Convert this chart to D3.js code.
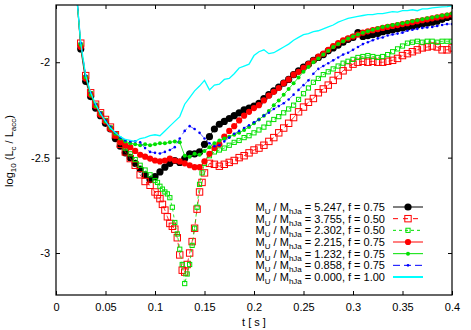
<!DOCTYPE html>
<html lang="en">
<head>
<meta charset="UTF-8">
<title>log10 (Lc / Lacc) versus t</title>
<script src="https://d3js.org/d3.v7.min.js"></script>
<style>
  body { margin: 0; background: #fff; }
  svg { display: block; font-family: 'Liberation Sans', Arial, sans-serif; }
</style>
</head>
<body>
<svg id="chart" width="471" height="330"></svg>
<script>
// time grid (s)
const times = [
  0.020,0.025,0.030,0.035,0.040,0.045,0.050,0.055,0.060,0.065,
  0.070,0.075,0.080,0.085,0.090,0.095,0.100,0.105,0.110,0.115,
  0.120,0.125,0.130,0.135,0.140,0.145,0.150,0.155,0.160,0.165,
  0.170,0.175,0.180,0.185,0.190,0.195,0.200,0.205,0.210,0.215,
  0.220,0.225,0.230,0.235,0.240,0.245,0.250,0.255,0.260,0.265,
  0.270,0.275,0.280,0.285,0.290,0.295,0.300,0.305,0.310,0.315,
  0.320,0.325,0.330,0.335,0.340,0.345,0.350,0.355,0.360,0.365,
  0.370,0.375,0.380,0.385,0.390,0.395,0.400
];
// finer output around the dip (f = 0.50 runs)
const timesFine = [
  0.020,0.025,0.030,0.035,0.040,0.045,0.050,0.055,0.060,0.065,
  0.070,0.075,0.080,0.085,0.090,0.095,0.100,
  0.1025,0.105,0.1075,0.110,0.1125,0.115,0.1175,0.120,0.1225,0.125,
  0.1275,0.130,0.1325,0.135,0.1375,0.140,0.1425,0.145,0.1475,0.150,
  0.155,0.160,0.165,0.170,0.175,0.180,0.185,0.190,0.195,0.200,
  0.205,0.210,0.215,0.220,0.225,0.230,0.235,0.240,0.245,0.250,
  0.255,0.260,0.265,0.270,0.275,0.280,0.285,0.290,0.295,0.300,
  0.305,0.310,0.315,0.320,0.325,0.330,0.335,0.340,0.345,0.350,
  0.355,0.360,0.365,0.370,0.375,0.380,0.385,0.390,0.395,0.400
];

// log10(Lc/Lacc)
const m5247 = [
  -1.58,-1.93,-2.10,-2.18,-2.24,-2.28,-2.32,-2.35,-2.40,-2.44,
  -2.475,-2.50,-2.53,-2.56,-2.59,-2.615,-2.60,-2.575,-2.55,-2.53,
  -2.515,-2.525,-2.505,-2.48,-2.48,-2.47,-2.43,-2.39,-2.35,-2.325,
  -2.31,-2.295,-2.28,-2.265,-2.25,-2.24,-2.23,-2.215,-2.19,-2.17,
  -2.15,-2.13,-2.11,-2.09,-2.065,-2.045,-2.025,-2.01,-1.99,-1.975,
  -1.96,-1.94,-1.925,-1.91,-1.895,-1.88,-1.87,-1.845,-1.865,-1.86,
  -1.855,-1.85,-1.84,-1.835,-1.83,-1.825,-1.82,-1.815,-1.81,-1.805,
  -1.80,-1.795,-1.79,-1.785,-1.775,-1.765,-1.76
];
const m3755 = [
  -1.62,-1.90,-2.07,-2.16,-2.22,-2.265,-2.30,-2.34,-2.38,-2.43,
  -2.47,-2.505,-2.54,-2.59,-2.625,-2.645,-2.68,
  -2.695,-2.715,-2.745,-2.775,-2.81,-2.845,-2.86,-2.875,-2.92,-3.01,
  -3.09,-3.10,-3.06,-3.00,-2.94,-2.87,-2.77,-2.68,-2.63,-2.58,
  -2.53,-2.535,-2.545,-2.535,-2.525,-2.515,-2.50,-2.49,-2.475,-2.46,
  -2.45,-2.435,-2.415,-2.395,-2.37,-2.345,-2.32,-2.29,-2.26,-2.235,
  -2.21,-2.19,-2.16,-2.14,-2.12,-2.095,-2.07,-2.045,-2.025,-2.01,
  -2.00,-1.995,-2.00,-1.995,-2.00,-2.00,-1.995,-1.99,-1.98,-1.965,
  -1.955,-1.945,-1.935,-1.925,-1.92,-1.915,-1.92,-1.935,-1.935,-1.925
];
const m2302 = [
  -1.60,-1.91,-2.08,-2.165,-2.225,-2.27,-2.305,-2.345,-2.38,-2.42,
  -2.45,-2.48,-2.51,-2.54,-2.565,-2.59,-2.62,
  -2.63,-2.65,-2.665,-2.68,-2.69,-2.71,-2.76,-2.84,-2.90,-2.98,
  -3.06,-3.16,-3.11,-3.06,-2.96,-2.87,-2.76,-2.64,-2.58,-2.53,
  -2.49,-2.47,-2.46,-2.45,-2.435,-2.42,-2.41,-2.395,-2.385,-2.37,
  -2.355,-2.34,-2.32,-2.30,-2.285,-2.265,-2.245,-2.225,-2.195,-2.165,
  -2.135,-2.105,-2.085,-2.065,-2.05,-2.035,-2.02,-2.005,-1.995,-1.985,
  -1.975,-1.97,-1.965,-1.97,-1.975,-1.97,-1.96,-1.945,-1.93,-1.915,
  -1.90,-1.895,-1.89,-1.895,-1.89,-1.89,-1.895,-1.89,-1.89,-1.89
];
const m2215 = [
  -1.60,-1.92,-2.085,-2.17,-2.23,-2.275,-2.31,-2.35,-2.385,-2.42,
  -2.435,-2.445,-2.465,-2.485,-2.495,-2.505,-2.515,-2.52,-2.515,-2.505,
  -2.515,-2.52,-2.53,-2.54,-2.55,-2.55,-2.52,-2.48,-2.45,-2.43,
  -2.39,-2.36,-2.335,-2.305,-2.28,-2.26,-2.24,-2.225,-2.20,-2.175,
  -2.155,-2.135,-2.11,-2.09,-2.065,-2.05,-2.03,-2.01,-1.99,-1.97,
  -1.955,-1.935,-1.915,-1.90,-1.885,-1.875,-1.865,-1.855,-1.845,-1.838,
  -1.832,-1.826,-1.82,-1.815,-1.81,-1.805,-1.80,-1.795,-1.79,-1.785,
  -1.78,-1.775,-1.77,-1.765,-1.76,-1.755,-1.75
];
const m1232 = [
  -1.59,-1.91,-2.08,-2.17,-2.23,-2.27,-2.31,-2.345,-2.375,-2.40,
  -2.415,-2.425,-2.43,-2.435,-2.43,-2.435,-2.43,-2.425,-2.425,-2.42,
  -2.415,-2.42,-2.49,-2.495,-2.48,-2.485,-2.465,-2.445,-2.425,-2.41,
  -2.40,-2.39,-2.38,-2.37,-2.355,-2.34,-2.32,-2.30,-2.28,-2.255,
  -2.225,-2.20,-2.17,-2.14,-2.11,-2.08,-2.05,-2.025,-2.00,-1.98,
  -1.96,-1.94,-1.92,-1.905,-1.89,-1.875,-1.865,-1.855,-1.845,-1.838,
  -1.83,-1.822,-1.815,-1.81,-1.805,-1.80,-1.795,-1.79,-1.785,-1.78,
  -1.775,-1.77,-1.765,-1.76,-1.755,-1.75,-1.745
];
const m0858 = [
  -1.58,-1.90,-2.07,-2.16,-2.22,-2.265,-2.305,-2.34,-2.37,-2.395,
  -2.41,-2.415,-2.415,-2.42,-2.45,-2.47,-2.475,-2.478,-2.47,-2.46,
  -2.445,-2.40,-2.36,-2.335,-2.35,-2.37,-2.40,-2.425,-2.44,-2.435,
  -2.415,-2.395,-2.375,-2.36,-2.345,-2.33,-2.315,-2.30,-2.28,-2.265,
  -2.245,-2.23,-2.215,-2.195,-2.17,-2.145,-2.12,-2.095,-2.06,-2.035,
  -2.02,-2.005,-1.99,-1.975,-1.96,-1.95,-1.935,-1.92,-1.905,-1.895,
  -1.885,-1.875,-1.87,-1.86,-1.855,-1.85,-1.845,-1.835,-1.83,-1.825,
  -1.82,-1.818,-1.815,-1.81,-1.805,-1.80,-1.80
];
const m0000 = [
  -1.60,-1.90,-2.07,-2.16,-2.22,-2.27,-2.31,-2.345,-2.37,-2.39,
  -2.405,-2.41,-2.415,-2.40,-2.395,-2.385,-2.38,-2.385,-2.36,-2.335,
  -2.31,-2.285,-2.22,-2.185,-2.15,-2.125,-2.095,-2.145,-2.12,-2.115,
  -2.09,-2.085,-2.06,-2.03,-2.02,-2.01,-1.965,-1.945,-1.935,-1.955,
  -1.95,-1.935,-1.92,-1.905,-1.885,-1.87,-1.855,-1.85,-1.84,-1.835,
  -1.825,-1.815,-1.805,-1.79,-1.78,-1.77,-1.765,-1.76,-1.755,-1.75,
  -1.75,-1.745,-1.745,-1.74,-1.735,-1.737,-1.73,-1.73,-1.725,-1.73,
  -1.72,-1.72,-1.715,-1.712,-1.71,-1.708,-1.705
];

const ratios = ["5.247", "3.755", "2.302", "2.215", "1.232", "0.858", "0.000"];
const fValues = ["0.75", "0.50", "0.50", "0.75", "0.75", "0.75", "1.00"];

const xTicks = [0, 0.05, 0.1, 0.15, 0.2, 0.25, 0.3, 0.35, 0.4];
const xTickLabels = ["0", "0.05", "0.1", "0.15", "0.2", "0.25", "0.3", "0.35", "0.4"];
const yTicks = [-3, -2.5, -2];
const yTickLabels = ["-3", "-2.5", "-2"];

const svg = d3.select("#chart");
const W = 471, H = 330;
const margin = { left: 56, right: 19, top: 5, bottom: 35 };
const x = d3.scaleLinear().domain([0, 0.4]).range([margin.left, W - margin.right]);
const y = d3.scaleLinear().domain([-3.22, -1.70]).range([H - margin.bottom, margin.top]);

// styles per run, same order as the legend
const styles = [
  { color: "#000000", marker: "circle", size: 3.6, dash: null, width: 0.8 },
  { color: "#ff0000", marker: "square", size: 6.4, dash: "5,5", width: 0.8 },
  { color: "#00e000", marker: "square", size: 4.2, dash: "3,3", width: 0.8 },
  { color: "#ff0000", marker: "circle", size: 3.1, dash: null, width: 0.8 },
  { color: "#00e000", marker: "circle", size: 2.0, dash: null, width: 0.8 },
  { color: "#0000ff", marker: "circle", size: 1.3, dash: "7,4", width: 0.6 },
  { color: "#00ffff", marker: null, size: 0, dash: null, width: 1.3 }
];
const runs = [
  { t: times, v: m5247 },
  { t: timesFine, v: m3755 },
  { t: timesFine, v: m2302 },
  { t: times, v: m2215 },
  { t: times, v: m1232 },
  { t: times, v: m0858 },
  { t: times, v: m0000 }
];

svg.append("defs").append("clipPath").attr("id", "plotClip")
  .append("rect")
  .attr("x", x(0)).attr("y", y(-1.70))
  .attr("width", x(0.4) - x(0)).attr("height", y(-3.22) - y(-1.70));

const fontFam = "'Liberation Sans', Arial, sans-serif";

// axes with inward ticks, mirrored on top/right
function styleAxis(g) {
  g.attr("font-family", fontFam).attr("font-size", 11);
  g.select(".domain").remove();
  g.selectAll(".tick line").attr("stroke", "#000");
  g.selectAll(".tick text").attr("fill", "#000");
}
svg.append("g")
  .attr("transform", `translate(0,${y(-3.22)})`)
  .call(d3.axisBottom(x).tickValues(xTicks).tickFormat((d, i) => xTickLabels[i])
    .tickSizeInner(-4).tickSizeOuter(0).tickPadding(8))
  .call(styleAxis);
svg.append("g")
  .attr("transform", `translate(0,${y(-1.70)})`)
  .call(d3.axisTop(x).tickValues(xTicks).tickFormat("").tickSizeInner(-4).tickSizeOuter(0))
  .call(styleAxis);
svg.append("g")
  .attr("transform", `translate(${x(0)},0)`)
  .call(d3.axisLeft(y).tickValues(yTicks).tickFormat((d, i) => yTickLabels[i])
    .tickSizeInner(-4).tickSizeOuter(0).tickPadding(6))
  .call(styleAxis);
svg.append("g")
  .attr("transform", `translate(${x(0.4)},0)`)
  .call(d3.axisRight(y).tickValues(yTicks).tickFormat("").tickSizeInner(-4).tickSizeOuter(0))
  .call(styleAxis);

// curves
const plot = svg.append("g").attr("clip-path", "url(#plotClip)");
const line = d3.line().x(d => x(d[0])).y(d => y(d[1]));

function drawMarkers(g, pts, st) {
  if (st.marker === "circle") {
    g.selectAll("circle").data(pts).join("circle")
      .attr("cx", d => x(d[0])).attr("cy", d => y(d[1]))
      .attr("r", st.size).attr("fill", st.color);
  } else if (st.marker === "square") {
    g.selectAll("rect").data(pts).join("rect")
      .attr("x", d => x(d[0]) - st.size / 2).attr("y", d => y(d[1]) - st.size / 2)
      .attr("width", st.size).attr("height", st.size)
      .attr("fill", "none").attr("stroke", st.color).attr("stroke-width", 1);
  }
}

runs.forEach((r, i) => {
  const st = styles[i];
  const pts = r.t.map((t, k) => [t, r.v[k]]);
  const g = plot.append("g");
  g.append("path").datum(pts)
    .attr("d", line)
    .attr("fill", "none")
    .attr("stroke", st.color)
    .attr("stroke-width", st.width)
    .attr("stroke-dasharray", st.dash);
  drawMarkers(g, pts.filter(d => d[1] <= -1.70), st);
});

// frame
svg.append("rect")
  .attr("x", x(0)).attr("y", y(-1.70))
  .attr("width", x(0.4) - x(0)).attr("height", y(-3.22) - y(-1.70))
  .attr("fill", "none").attr("stroke", "#000").attr("stroke-width", 1.2);

// legend
const legend = svg.append("g").attr("font-family", fontFam).attr("font-size", 11);
const rowY = d3.scaleLinear().domain([0, 6]).range([207, 277]);
ratios.forEach((ratio, i) => {
  const st = styles[i];
  const cy = rowY(i);
  const txt = legend.append("text")
    .attr("x", 385).attr("y", cy + 4)
    .attr("text-anchor", "end").attr("fill", "#000");
  txt.append("tspan").text("M");
  txt.append("tspan").attr("dy", 3).attr("font-size", 8).text("U");
  txt.append("tspan").attr("dy", -3).text(" / M");
  txt.append("tspan").attr("dy", 3).attr("font-size", 8).text("hJa");
  txt.append("tspan").attr("dy", -3).text(` = ${ratio}, f = ${fValues[i]}`);

  legend.append("line")
    .attr("x1", 393).attr("x2", 423).attr("y1", cy).attr("y2", cy)
    .attr("stroke", st.color).attr("stroke-width", i === 6 ? 2 : 1)
    .attr("stroke-dasharray", st.dash);
  const mg = legend.append("g");
  drawMarkers(mg, [[x.invert(408), y.invert(cy)]], st);
});

// axis titles
svg.append("text")
  .attr("x", (x(0) + x(0.4)) / 2).attr("y", 326)
  .attr("text-anchor", "middle")
  .attr("font-family", fontFam).attr("font-size", 11)
  .text("t [ s ]");

const yl = svg.append("text")
  .attr("transform", `translate(13,151) rotate(-90)`)
  .attr("text-anchor", "middle")
  .attr("font-family", fontFam).attr("font-size", 11);
yl.append("tspan").text("log");
yl.append("tspan").attr("dy", 3).attr("font-size", 8).text("10");
yl.append("tspan").attr("dy", -3).text(" (L");
yl.append("tspan").attr("dy", 3).attr("font-size", 8).text("c");
yl.append("tspan").attr("dy", -3).text(" / L");
yl.append("tspan").attr("dy", 3).attr("font-size", 8).text("acc");
yl.append("tspan").attr("dy", -3).text(")");
</script>
</body>
</html>
